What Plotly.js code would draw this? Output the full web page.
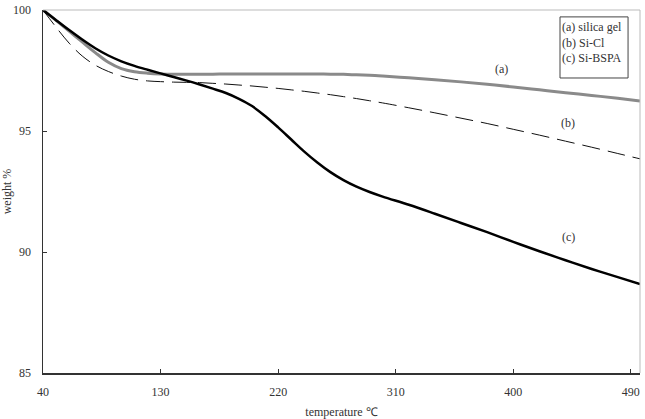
<!DOCTYPE html>
<html>
<head>
<meta charset="utf-8">
<script src="https://cdn.plot.ly/plotly-3.0.1.min.js"></script>
<style>
  html, body { margin: 0; padding: 0; background: #fff; }
  #chart { width: 645px; height: 419px; }
</style>
</head>
<body>
<div id="chart"></div>
<script>
// Temperature (°C) sample points shared by all three curves
const temperature = [40, 50, 60, 70, 80, 90, 100, 110, 120, 130, 140, 150, 160, 170, 180, 190, 200, 210, 220, 230, 240, 250, 260, 270, 280, 290, 300, 320, 340, 360, 380, 400, 420, 440, 460, 480, 497];

// (a) silica gel – weight %
const silicaGel = [100, 99.57, 99.13, 98.68, 98.24, 97.84, 97.58, 97.45, 97.39, 97.36, 97.35, 97.35, 97.35, 97.35, 97.36, 97.36, 97.36, 97.36, 97.36, 97.36, 97.36, 97.36, 97.35, 97.34, 97.32, 97.30, 97.27, 97.20, 97.12, 97.03, 96.93, 96.82, 96.70, 96.58, 96.47, 96.35, 96.24];

// (b) Si-Cl – weight %
const siCl = [100, 99.29, 98.63, 98.10, 97.72, 97.46, 97.27, 97.14, 97.07, 97.04, 97.02, 97.01, 97.00, 96.97, 96.94, 96.90, 96.86, 96.81, 96.76, 96.70, 96.64, 96.57, 96.50, 96.42, 96.34, 96.25, 96.16, 95.96, 95.75, 95.53, 95.31, 95.07, 94.83, 94.58, 94.33, 94.07, 93.85];

// (c) Si-BSPA – weight %
const siBSPA = [100, 99.58, 99.17, 98.78, 98.42, 98.12, 97.88, 97.69, 97.53, 97.38, 97.23, 97.08, 96.92, 96.75, 96.57, 96.33, 96.03, 95.62, 95.15, 94.65, 94.15, 93.70, 93.30, 92.97, 92.70, 92.48, 92.29, 91.95, 91.58, 91.20, 90.82, 90.42, 90.03, 89.66, 89.30, 88.96, 88.68];

const seriesNames = ["(a) silica gel", "(b) Si-Cl", "(c) Si-BSPA"];
const curveLabels = ["(a)", "(b)", "(c)"];
const labelTemp = [391, 442, 442];
const labelWeight = [97.55, 95.34, 90.63];

const xTicks = [40, 130, 220, 310, 400, 490];
const yTicks = [85, 90, 95, 100];

const FONT = "Times New Roman";
const TXT = { family: FONT, size: 12, color: "#333" };

const traces = [
  { x: temperature, y: silicaGel, name: seriesNames[0], mode: "lines",
    line: { color: "#8a8a8a", width: 3, shape: "spline", smoothing: 1 } },
  { x: temperature, y: siCl, name: seriesNames[1], mode: "lines",
    line: { color: "#111", width: 1, dash: "18px,8px", shape: "spline", smoothing: 1 } },
  { x: temperature, y: siBSPA, name: seriesNames[2], mode: "lines",
    line: { color: "#000", width: 2.5, shape: "spline", smoothing: 1 } }
];

const annotations = curveLabels.map((t, i) => ({
  x: labelTemp[i], y: labelWeight[i], xref: "x", yref: "y",
  text: t, showarrow: false, font: TXT
}));

// legend text (the box itself is a shape below)
annotations.push({
  xref: "paper", yref: "paper", x: 0.868, y: 0.975,
  xanchor: "left", yanchor: "top",
  text: seriesNames.join("<br>"),
  showarrow: false, align: "left", borderpad: 0,
  font: TXT
});

const layout = {
  width: 645, height: 419,
  margin: { l: 43, r: 5, t: 10, b: 46 },
  paper_bgcolor: "#fff", plot_bgcolor: "#fff",
  showlegend: false,
  font: TXT,
  xaxis: {
    range: [40, 497], tickvals: xTicks, ticktext: xTicks.map(String),
    showgrid: false, zeroline: false,
    showline: true, linecolor: "#333", linewidth: 1.5,
    ticks: "inside", ticklen: 4, tickcolor: "#333",
    ticklabelstandoff: 7,
    tickfont: TXT,
    title: { text: "temperature ℃", standoff: 18, font: TXT }
  },
  yaxis: {
    range: [85, 100], tickvals: yTicks, ticktext: yTicks.map(String),
    showgrid: false, zeroline: false,
    showline: true, linecolor: "#333", linewidth: 1.5,
    ticks: "inside", ticklen: 4, tickcolor: "#333",
    ticklabelstandoff: 8,
    tickfont: TXT,
    title: { text: "weight %", standoff: 6, font: TXT }
  },
  shapes: [
    { type: "line", xref: "paper", yref: "paper", x0: 0, x1: 1, y0: 1, y1: 1, line: { color: "#bbb", width: 1 } },
    { type: "line", xref: "paper", yref: "paper", x0: 1, x1: 1, y0: 0, y1: 1, line: { color: "#bbb", width: 1 } },
    { type: "rect", xref: "paper", yref: "paper", x0: 0.866, x1: 0.980, y0: 0.8127, y1: 0.981,
      line: { color: "#444", width: 1 }, fillcolor: "rgba(0,0,0,0)" }
  ],
  annotations: annotations
};

Plotly.newPlot("chart", traces, layout, { displayModeBar: false, staticPlot: true });
</script>
</body>
</html>
